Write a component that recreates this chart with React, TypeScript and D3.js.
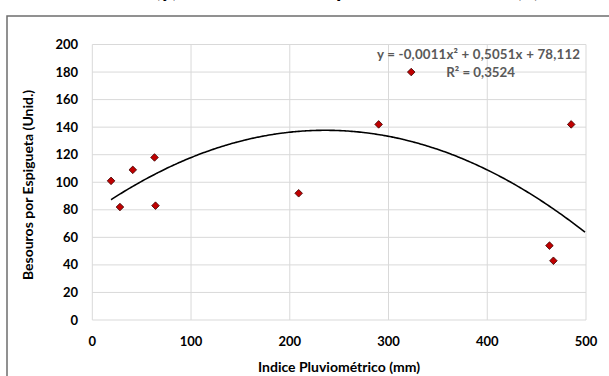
import React from "react";
import * as d3 from "d3";

const rainfall = [19, 28, 41, 63, 64, 209, 290, 323, 463, 467, 485];
const beetles = [101, 82, 109, 118, 83, 92, 142, 180, 54, 43, 142];
const xTicks = [0, 100, 200, 300, 400, 500];
const yTicks = [0, 20, 40, 60, 80, 100, 120, 140, 160, 180, 200];
const trendCoeffs = [-0.00107, 0.5051, 78.112];
const equationText = "y = -0,0011x² + 0,5051x + 78,112";
const r2Text = "R² = 0,3524";
const xTitle = "Indice Pluviométrico (mm)";
const yTitle = "Besouros por Espigueta (Unid.)";

const W = 609;
const H = 376;
const font = "Lato, 'Open Sans', sans-serif";

export default function App() {
  const x = d3.scaleLinear().domain([0, 500]).range([92.3, 586]);
  const y = d3.scaleLinear().domain([0, 200]).range([320, 44.5]);
  const xs = d3.range(d3.min(rainfall)!, 500.01, 2);
  const f = (v: number) => trendCoeffs[0] * v * v + trendCoeffs[1] * v + trendCoeffs[2];
  const line = d3
    .line<number>()
    .x((d) => x(d))
    .y((d) => y(f(d)))
    .curve(d3.curveMonotoneX);
  const diamond = (cx: number, cy: number, r: number) =>
    `M${cx},${cy - r}L${cx + r},${cy}L${cx},${cy + r}L${cx - r},${cy}Z`;

  return (
    <svg
      width={W}
      height={H}
      style={{ position: "absolute", left: 0, top: 0, background: "#fff" }}
      fontFamily={font}
    >
      <rect x={0} y={0} width={W} height={H} fill="#fff" />
      {/* cut-off title, only descenders visible */}
      <g fontSize={22} fontWeight="bold" fill="#000">
        <text x={178} y={-3} textAnchor="end">Besouros (y)</text>
        <text x={336} y={-3}>pluviométrico</text>
        <text x={516} y={-3}>(x)</text>
      </g>
      <rect x={7} y={16} width={640} height={400} fill="none" stroke="#6e6e6e" strokeWidth={1.5} />
      {/* gridlines */}
      <g stroke="#d9d9d9" strokeWidth={1}>
        {yTicks.map((t) => (
          <line key={"gy" + t} x1={x(0)} x2={x(500)} y1={y(t)} y2={y(t)} />
        ))}
        {xTicks.map((t) => (
          <line key={"gx" + t} x1={x(t)} x2={x(t)} y1={y(0)} y2={y(200)} />
        ))}
      </g>
      {/* tick labels */}
      <g fontSize={13} fontWeight="bold" fill="#000">
        {yTicks.map((t) => (
          <text key={"ly" + t} x={78} y={y(t)} dy="0.35em" textAnchor="end">
            {t}
          </text>
        ))}
        {xTicks.map((t) => (
          <text key={"lx" + t} x={x(t)} y={341} dy="0.35em" textAnchor="middle">
            {t}
          </text>
        ))}
      </g>
      <text x={339} y={367} dy="0.35em" textAnchor="middle" fontSize={14} fontWeight="bold">
        {xTitle}
      </text>
      <text
        transform={`translate(28,185) rotate(-90)`}
        dy="0.35em"
        textAnchor="middle"
        fontSize={14}
        fontWeight="bold"
      >
        {yTitle}
      </text>
      {/* trendline */}
      <path d={line(xs) || ""} fill="none" stroke="#000" strokeWidth={1.6} />
      {/* points */}
      {rainfall.map((r, i) => (
        <path
          key={"p" + i}
          d={diamond(x(r), y(beetles[i]), 3.8)}
          fill="#c00000"
          stroke="#3a0000"
          strokeWidth={0.8}
        />
      ))}
      {/* equation */}
      <g fontSize={13.3} fontWeight="bold" fill="#595959">
        <text x={580} y={54} dy="0.35em" textAnchor="end" textLength={203} lengthAdjust="spacing">
          {equationText}
        </text>
        <text x={515} y={72.5} dy="0.35em" textAnchor="end">
          {r2Text}
        </text>
      </g>
    </svg>
  );
}
